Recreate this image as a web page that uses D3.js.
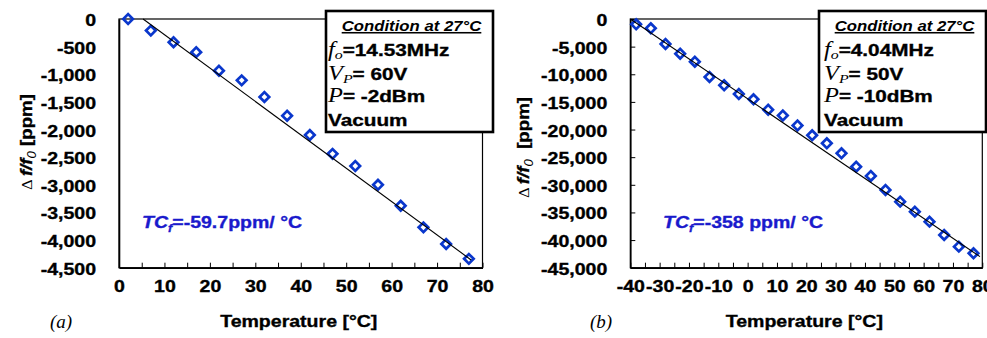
<!DOCTYPE html>
<html>
<head>
<meta charset="utf-8">
<script src="https://cdn.jsdelivr.net/npm/d3@7"></script>
<style>
  body { margin: 0; background: #fff; }
  svg { display: block; }
  .heavy { stroke: currentColor; stroke-width: 0.35px; }
</style>
</head>
<body>
<div id="chart"></div>
<script>
// panel (a) : 14.53 MHz device
const tempA = [2, 7, 12, 17, 22, 27, 32, 37, 42, 47, 52, 57, 62, 67, 72, 77];
const shiftA = [0, -210, -420, -600, -935, -1110, -1410, -1750, -2100, -2440, -2660, -3000, -3380, -3770, -4070, -4340];
const fitTempA = [5.3, 77.5];
const fitShiftA = [0, -4360];
const xTicksA = [0, 5, 10, 15, 20, 25, 30, 35, 40, 45, 50, 55, 60, 65, 70, 75, 80];
const yTicksA = [0, -500, -1000, -1500, -2000, -2500, -3000, -3500, -4000, -4500];
const condA = ["14.53MHz", " 60V", " -2dBm"];
const tcA = "=-59.7ppm/ °C";

// panel (b) : 4.04 MHz device
const tempB = [-38, -33, -28, -23, -18, -13, -8, -3, 2, 7, 12, 17, 22, 27, 32, 37, 42, 47, 52, 57, 62, 67, 72, 77];
const shiftB = [-960, -1680, -4520, -6280, -7730, -10490, -11990, -13570, -14530, -16410, -17460, -19270,
                -21040, -22490, -24300, -26720, -28400, -30930, -33050, -34860, -36670, -39070, -41190, -42390];
const fitTempB = [-40, 79.2];
const fitShiftB = [0, -43000];
const xTicksB = [-40, -35, -30, -25, -20, -15, -10, -5, 0, 5, 10, 15, 20, 25, 30, 35, 40, 45, 50, 55, 60, 65, 70, 75, 80];
const yTicksB = [0, -5000, -10000, -15000, -20000, -25000, -30000, -35000, -40000, -45000];
const condB = ["4.04MHz", " 50V", " -10dBm"];
const tcB = "=-358 ppm/ °C";

const width = 987, height = 338;
const SANS = "'Liberation Sans', Arial, Helvetica, sans-serif";
const SERIF = "'Liberation Serif', 'Times New Roman', serif";
const SX = 1.15;          // the original text is a bit wide
const BLUE = "#0a37cc";
const TCBLUE = "#1a1acc";

const fmt = d3.formatLocale({ decimal: ".", thousands: ",", grouping: [3], currency: ["", ""], minus: "-" }).format(",");

const svg = d3.select("#chart").append("svg")
  .attr("width", width)
  .attr("height", height)
  .style("font-family", SANS);

// rich text helper: parts = [{t, serif, italic, bold, size, sub}]
function rich(sel, parts) {
  parts.forEach(p => {
    const ts = sel.append("tspan")
      .attr("font-family", p.serif ? SERIF : SANS)
      .attr("font-style", p.italic ? "italic" : "normal")
      .attr("font-weight", p.bold ? "bold" : "normal")
      .attr("font-size", p.size)
      .attr("class", p.bold ? "heavy" : null)
      .text(p.t);
    if (p.sub) ts.attr("dy", p.sub);
  });
  return sel;
}

function drawPanel(o) {
  const x = d3.scaleLinear().domain(o.xDomain).range([o.left, o.right]);
  const y = d3.scaleLinear().domain(o.yDomain).range([o.bottom, o.top]);
  const g = svg.append("g");

  // plot frame
  g.append("rect")
    .attr("x", o.left).attr("y", o.top)
    .attr("width", o.right - o.left).attr("height", o.bottom - o.top)
    .attr("fill", "none").attr("stroke", "#000").attr("stroke-width", 1.2);

  // x axis
  const xa = g.append("g")
    .attr("transform", `translate(0,${o.bottom})`)
    .call(d3.axisBottom(x).tickValues(o.xTicks).tickSize(-5).tickSizeOuter(0).tickPadding(12)
      .tickFormat(d => d % 10 === 0 ? String(d) : ""));
  xa.select(".domain").attr("stroke-width", 1.6);
  xa.selectAll("text")
    .attr("font-family", SANS).attr("font-weight", "bold").attr("font-size", 17).attr("fill", "#000")
    .attr("class", "heavy")
    .attr("transform", `scale(${SX},1)`);

  // y axis
  const ya = g.append("g")
    .attr("transform", `translate(${o.left},0)`)
    .call(d3.axisLeft(y).tickValues(o.yTicks).tickSize(o.yTickLen).tickSizeOuter(0).tickPadding(20).tickFormat(fmt));
  ya.select(".domain").attr("stroke-width", 1.6);
  ya.selectAll("text")
    .attr("font-family", SANS).attr("font-weight", "bold").attr("font-size", 17).attr("fill", "#000")
    .attr("class", "heavy")
    .attr("dy", "0.38em")
    .attr("transform", `scale(${SX},1)`);

  // data points
  g.append("g").selectAll("path")
    .data(d3.zip(o.xs, o.ys))
    .join("path")
    .attr("d", d3.symbol(d3.symbolSquare, 46))
    .attr("transform", d => `translate(${x(d[0])},${y(d[1])}) rotate(45)`)
    .attr("fill", "none")
    .attr("stroke", BLUE)
    .attr("stroke-width", 2.7);

  // linear fit
  g.append("path")
    .datum(d3.zip(o.fitX, o.fitY))
    .attr("d", d3.line().x(d => x(d[0])).y(d => y(d[1])))
    .attr("fill", "none")
    .attr("stroke", "#000")
    .attr("stroke-width", 1.1);

  // TCf label
  const tc = g.append("text")
    .attr("transform", `translate(${o.tcX},${o.tcY}) scale(${SX},1)`)
    .attr("fill", TCBLUE)
    .style("color", TCBLUE);
  rich(tc, [
    { t: "TC", italic: true, bold: true, size: 17 },
    { t: "f", italic: true, bold: true, size: 11, sub: 4 },
    { t: o.tcText, bold: true, size: 17, sub: -4 }
  ]);

  // axis titles
  g.append("text")
    .attr("transform", `translate(${(o.left + o.right) / 2 - 2},326.5) scale(${SX},1)`)
    .attr("text-anchor", "middle")
    .attr("class", "heavy")
    .attr("font-weight", "bold").attr("font-size", 17)
    .text("Temperature [°C]");

  const yt = g.append("text")
    .attr("transform", `translate(${o.yTitleX},${o.yTitleY}) rotate(-90) scale(1.1,1)`)
    .attr("text-anchor", "middle");
  rich(yt, [
    { t: "Δ ", serif: true, size: 15 },
    { t: "f/f", italic: true, bold: true, size: 17 },
    { t: "0", italic: true, size: 12, sub: 4 },
    { t: o.yTitleGap + "[ppm]", bold: true, size: 17, sub: -4 }
  ]);

  g.append("text")
    .attr("x", o.tagX).attr("y", 328)
    .attr("font-family", SERIF).attr("font-style", "italic").attr("font-size", 19)
    .text(o.tag);

  // condition box
  const b = g.append("g");
  b.append("rect")
    .attr("x", o.boxX).attr("y", o.boxY).attr("width", o.boxW).attr("height", 121)
    .attr("fill", "#fff").attr("stroke", "#000").attr("stroke-width", 2.6);
  b.append("text")
    .attr("transform", `translate(${o.boxX + o.boxW / 2 + 2},${o.boxY + 20}) scale(1.08,1)`)
    .attr("text-anchor", "middle")
    .attr("font-weight", "bold").attr("font-style", "italic").attr("font-size", 15.5)
    .attr("text-decoration", "underline")
    .text("Condition at 27°C");
  const rows = [
    [{ t: "f", serif: true, italic: true, size: 20 }, { t: "o", serif: true, italic: true, size: 13, sub: 3 },
     { t: "=" + o.cond[0], bold: true, size: 17, sub: -3 }],
    [{ t: "V", serif: true, italic: true, size: 20 }, { t: "P", serif: true, italic: true, size: 13, sub: 3 },
     { t: "=" + o.cond[1], bold: true, size: 17, sub: -3 }],
    [{ t: "P", serif: true, italic: true, size: 20 }, { t: "=" + o.cond[2], bold: true, size: 17 }],
    [{ t: " Vacuum", bold: true, size: 17 }]
  ];
  const rowY = [44.5, 68.5, 91, 115];
  rows.forEach((r, i) => {
    const t = b.append("text")
      .attr("transform", `translate(${o.textX},${o.boxY + rowY[i]}) scale(1.22,1)`);
    rich(t, r);
  });
}

drawPanel({
  xDomain: [0, 80], yDomain: [-4500, 0],
  left: 119, right: 482.5, top: 19, bottom: 267.7,
  xTicks: xTicksA, yTicks: yTicksA, yTickLen: 0,
  xs: tempA, ys: shiftA, fitX: fitTempA, fitY: fitShiftA,
  tcX: 142, tcY: 228, tcText: tcA,
  yTitleX: 31.5, yTitleY: 142, yTitleGap: " ",
  tag: "(a)", tagX: 50,
  boxX: 326, boxY: 11, boxW: 167, textX: 328, cond: condA
});

drawPanel({
  xDomain: [-40, 80], yDomain: [-45000, 0],
  left: 630.3, right: 982.3, top: 19, bottom: 267.7,
  xTicks: xTicksB, yTicks: yTicksB, yTickLen: -5,
  xs: tempB, ys: shiftB, fitX: fitTempB, fitY: fitShiftB,
  tcX: 663, tcY: 228, tcText: tcB,
  yTitleX: 529, yTitleY: 147.5, yTitleGap: "\u00a0\u00a0",
  tag: "(b)", tagX: 590,
  boxX: 819, boxY: 11, boxW: 167, textX: 824, cond: condB
});
</script>
</body>
</html>
